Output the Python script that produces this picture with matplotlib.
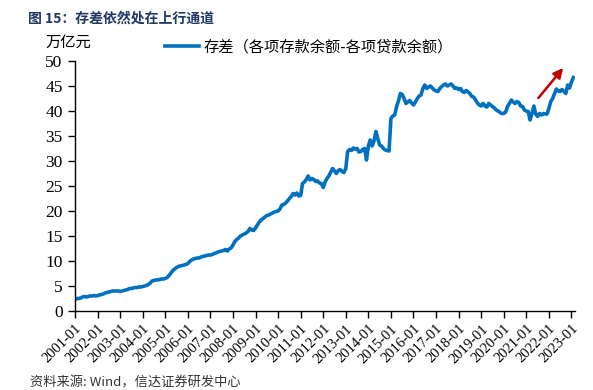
import matplotlib
matplotlib.use("Agg")
import matplotlib.pyplot as plt
import numpy as np

# monthly gap between deposits and loans (万亿元), 2001-01 .. 2023-02
y2001 = [2.3, 2.5, 2.5, 2.6, 2.8, 2.9, 2.8, 2.9, 3.0, 3.0, 3.1, 3.0]
y2002 = [3.1, 3.2, 3.3, 3.4, 3.6, 3.7, 3.8, 3.9, 4.0, 4.0, 4.0, 4.0]
y2003 = [3.9, 4.0, 4.1, 4.2, 4.3, 4.5, 4.5, 4.6, 4.7, 4.7, 4.8, 4.8]
y2004 = [4.9, 5.0, 5.1, 5.3, 5.6, 6.0, 6.1, 6.2, 6.2, 6.3, 6.4, 6.4]
y2005 = [6.5, 6.7, 7.1, 7.6, 8.1, 8.4, 8.7, 8.9, 9.0, 9.1, 9.2, 9.3]
y2006 = [9.5, 9.9, 10.2, 10.4, 10.5, 10.6, 10.6, 10.8, 10.9, 11.0, 11.1, 11.2]
y2007 = [11.2, 11.3, 11.5, 11.6, 11.8, 11.9, 12.0, 12.1, 12.3, 12.0, 12.4, 12.6]
y2008 = [13.2, 13.9, 14.3, 14.6, 15.0, 15.2, 15.4, 15.6, 15.9, 16.5, 16.2, 16.1]
y2009 = [16.6, 17.2, 17.8, 18.2, 18.5, 18.8, 19.1, 19.2, 19.4, 19.6, 19.8, 19.9]
y2010 = [20.0, 20.4, 21.2, 21.3, 21.6, 22.0, 22.5, 22.9, 23.5, 23.2, 23.6, 23.0]
y2011 = [23.1, 25.5, 25.8, 26.3, 27.0, 26.2, 26.5, 26.3, 25.9, 26.0, 25.6, 25.5]
y2012 = [24.7, 25.8, 26.5, 27.0, 27.8, 28.5, 28.0, 27.5, 28.1, 28.3, 27.9, 27.7]
y2013 = [28.5, 31.9, 32.3, 32.1, 32.6, 32.4, 32.5, 31.8, 31.9, 32.3, 32.5, 30.2]
y2014 = [33.0, 34.2, 33.0, 34.0, 35.9, 34.5, 33.2, 33.0, 32.5, 32.2, 32.1, 32.0]
y2015 = [38.5, 39.0, 39.2, 40.9, 42.0, 43.5, 43.3, 42.5, 41.5, 41.8, 42.1, 41.6]
y2016 = [41.2, 41.8, 42.5, 43.0, 43.2, 44.5, 45.2, 44.5, 44.8, 45.0, 44.6, 44.2]
y2017 = [44.0, 43.9, 44.5, 44.9, 45.2, 45.4, 45.0, 45.2, 45.4, 45.0, 44.5, 44.6]
y2018 = [44.3, 44.5, 43.9, 43.7, 44.1, 43.8, 43.5, 42.9, 42.8, 42.2, 41.6, 41.2]
y2019 = [41.0, 41.5, 41.0, 40.8, 41.5, 41.2, 40.9, 40.6, 40.2, 40.0, 39.7, 39.5]
y2020 = [39.5, 39.8, 40.9, 41.5, 42.2, 41.8, 41.5, 41.9, 41.7, 41.0, 40.9, 40.2]
y2021 = [40.0, 39.9, 38.2, 39.5, 41.0, 39.4, 38.9, 39.5, 39.2, 39.5, 39.4, 39.4]
y2022 = [40.5, 41.9, 42.5, 43.5, 44.4, 44.0, 43.9, 44.3, 43.9, 43.5, 45.2, 44.6]
y2023 = [45.8, 46.7]

years = list(range(2001, 2024))
tick_labels = [f"{y}-01" for y in years]

gap = np.array(y2001 + y2002 + y2003 + y2004 + y2005 + y2006 + y2007 + y2008
               + y2009 + y2010 + y2011 + y2012 + y2013 + y2014 + y2015 + y2016
               + y2017 + y2018 + y2019 + y2020 + y2021 + y2022 + y2023)
months = np.arange(len(gap))

# arrow endpoints (month index, value)
arrow_start = (246.4, 42.6)
arrow_end = (259.6, 48.6)

SERIF = 'Liberation Serif'
CJK = 'Noto Sans CJK SC'

fig = plt.figure(figsize=(5.93, 3.90), dpi=100)
ax = fig.add_axes([0.1265, 0.2026, 0.8435, 0.641])

ax.plot(months, gap, color='#0070C0', lw=2.6, solid_joinstyle='round',
        label='存差（各项存款余额-各项贷款余额）')

ax.annotate('', xy=arrow_end, xytext=arrow_start,
            arrowprops=dict(arrowstyle='-|>', color='#C00000', lw=1.8,
                            mutation_scale=14, shrinkA=0, shrinkB=0))

ax.set_xlim(0, 266)
ax.set_ylim(0, 50)
ax.set_yticks(np.arange(0, 51, 5))
ax.set_yticklabels([str(v) for v in range(0, 51, 5)], fontfamily=SERIF, fontsize=12.5)
ax.set_xticks(np.arange(0, 12 * len(years), 12))
ax.set_xticklabels(tick_labels, rotation=45, ha='right', rotation_mode='anchor',
                   fontfamily=SERIF, fontsize=10.5)
ax.tick_params(axis='y', direction='out', length=5, width=1, pad=4)
ax.tick_params(axis='x', direction='out', length=5, width=1, pad=3)
for s in ['top', 'right']:
    ax.spines[s].set_visible(False)
for s in ['left', 'bottom']:
    ax.spines[s].set_linewidth(1)

fig.legend(loc='center', bbox_to_anchor=(0.521, 0.879), frameon=False,
           handlelength=2.2, handletextpad=0.3,
           prop={'family': [CJK, SERIF], 'size': 11})

fig.text(0.047, 0.953, '图 15：存差依然处在上行通道', fontsize=10, fontweight='bold',
         color='#1F3864', family=[CJK], va='center')
fig.text(0.076, 0.892, '万亿元', fontsize=11, family=[CJK], va='center')
fig.text(0.050, 0.0, '资料来源: Wind，信达证券研发中心', fontsize=9.5, color='#333333',
         family=[CJK], va='bottom')

fig.savefig('out.png', dpi=100)
